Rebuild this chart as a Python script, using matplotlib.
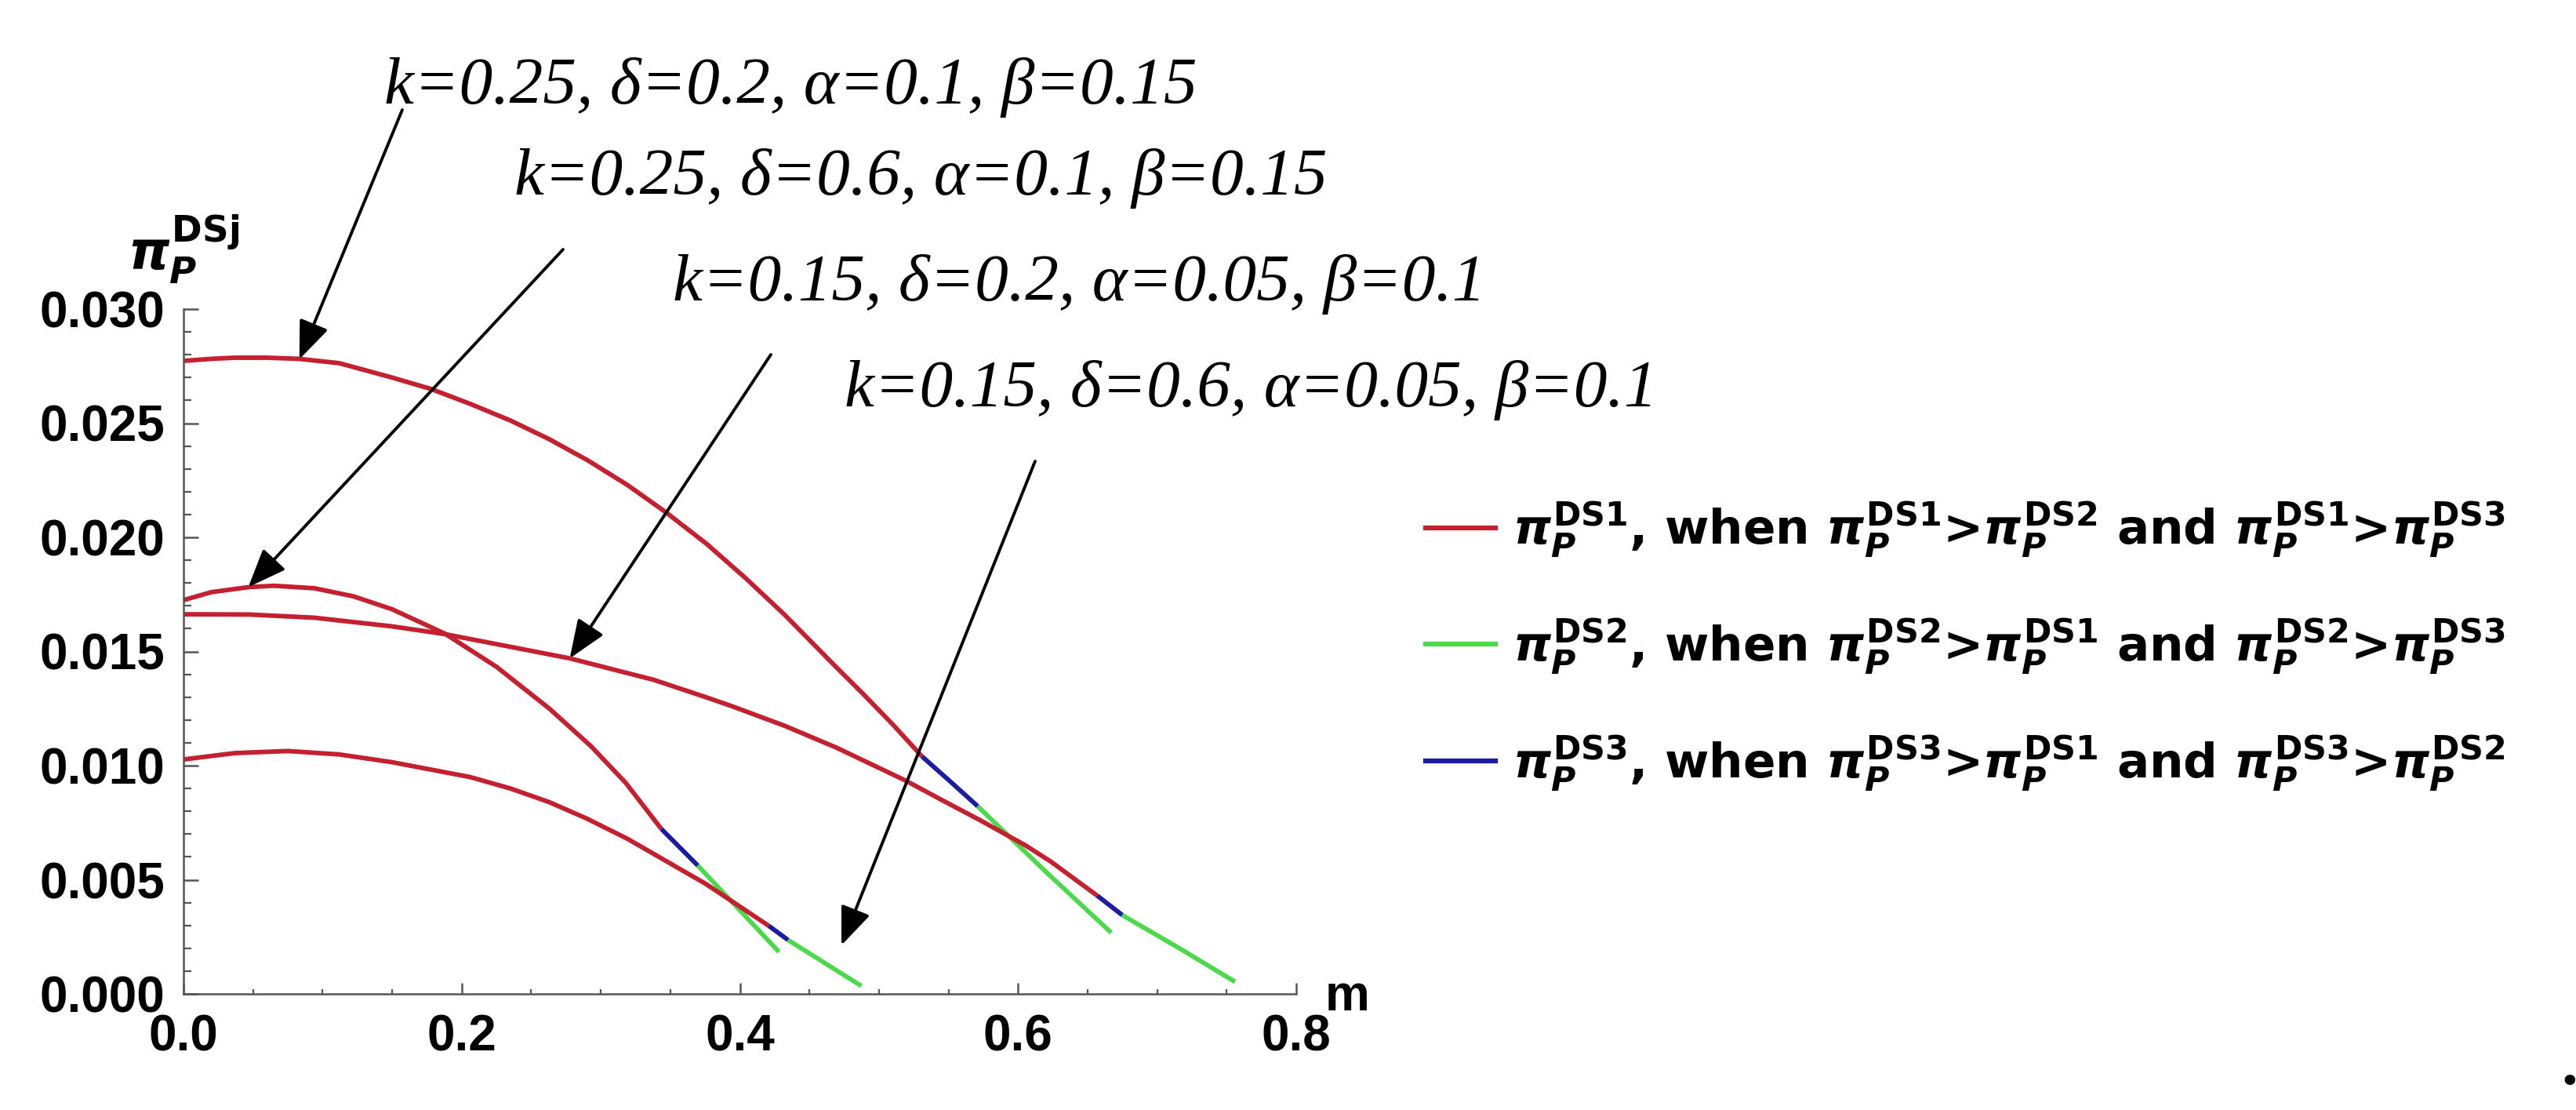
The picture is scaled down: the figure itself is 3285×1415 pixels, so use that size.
import matplotlib
matplotlib.use("Agg")
import matplotlib.pyplot as plt
from matplotlib.lines import Line2D
from matplotlib.ticker import MultipleLocator, FormatStrFormatter

W, H = 3285, 1415

# ---------------- data ----------------
# k=0.25, delta=0.2
A_red_m = [0.000, 0.020, 0.037, 0.060, 0.083, 0.112, 0.150, 0.178, 0.206, 0.235, 0.263, 0.291, 0.319,
           0.347, 0.376, 0.404, 0.432, 0.469, 0.488, 0.510, 0.531]
A_red_y = [0.02773, 0.02782, 0.02787, 0.02787, 0.02782, 0.02763, 0.02700, 0.02650, 0.02585, 0.02512,
           0.02430, 0.02336, 0.02230, 0.02109, 0.01972, 0.01822, 0.01662, 0.01433, 0.01318, 0.01180, 0.01040]
A_blue_m = [0.531, 0.551, 0.571]
A_blue_y = [0.01040, 0.00932, 0.00822]
A_green_m = [0.571, 0.620, 0.667]
A_green_y = [0.00822, 0.00535, 0.00268]

# k=0.25, delta=0.6
B_red_m = [0.000, 0.020, 0.047, 0.065, 0.094, 0.122, 0.150, 0.188, 0.225, 0.263, 0.293, 0.318, 0.3435]
B_red_y = [0.01725, 0.01760, 0.01782, 0.01788, 0.01777, 0.01742, 0.01685, 0.01578, 0.01433, 0.01250,
           0.01085, 0.00924, 0.00723]
B_blue_m = [0.3435, 0.3698]
B_blue_y = [0.00723, 0.00562]
B_green_m = [0.3698, 0.4281]
B_green_y = [0.00562, 0.00184]

# k=0.15, delta=0.2
C_red_m = [0.000, 0.047, 0.094, 0.150, 0.188, 0.2777, 0.338, 0.3755, 0.394, 0.432, 0.469, 0.519,
           0.545, 0.573, 0.6055, 0.6235, 0.657]
C_red_y = [0.01663, 0.01662, 0.01648, 0.01610, 0.01576, 0.01470, 0.01376, 0.01300, 0.01261, 0.01175,
           0.01080, 0.00935, 0.00850, 0.00760, 0.00650, 0.00580, 0.00430]
C_blue_m = [0.657, 0.675]
C_blue_y = [0.00430, 0.00345]
C_green_m = [0.675, 0.716, 0.756]
C_green_y = [0.00345, 0.00200, 0.00053]

# k=0.15, delta=0.6
D_red_m = [0.000, 0.037, 0.075, 0.112, 0.150, 0.206, 0.235, 0.263, 0.290, 0.319, 0.3755, 0.4206]
D_red_y = [0.01027, 0.01055, 0.01064, 0.01049, 0.01015, 0.00950, 0.00900, 0.00840, 0.00768, 0.00680,
           0.00482, 0.00299]
D_blue_m = [0.4206, 0.4347]
D_blue_y = [0.00299, 0.00236]
D_green_m = [0.4347, 0.4873]
D_green_y = [0.00236, 0.00035]

x_ticks = [0.0, 0.2, 0.4, 0.6, 0.8]
y_ticks = [0.000, 0.005, 0.010, 0.015, 0.020, 0.025, 0.030]

param_labels = [
    "k=0.25, \u03b4=0.2, \u03b1=0.1, \u03b2=0.15",
    "k=0.25, \u03b4=0.6, \u03b1=0.1, \u03b2=0.15",
    "k=0.15, \u03b4=0.2, \u03b1=0.05, \u03b2=0.1",
    "k=0.15, \u03b4=0.6, \u03b1=0.05, \u03b2=0.1",
]
# arrow tips (data coords on the curves)
arrow_tip_m = [0.0833, 0.0466, 0.2777, 0.473]
arrow_tip_y = [0.0278, 0.01782, 0.01470, 0.00213]

legend_labels = [
    r"$\pi_P^{\mathrm{DS1}}$, when $\pi_P^{\mathrm{DS1}}$>$\pi_P^{\mathrm{DS2}}$ and $\pi_P^{\mathrm{DS1}}$>$\pi_P^{\mathrm{DS3}}$",
    r"$\pi_P^{\mathrm{DS2}}$, when $\pi_P^{\mathrm{DS2}}$>$\pi_P^{\mathrm{DS1}}$ and $\pi_P^{\mathrm{DS2}}$>$\pi_P^{\mathrm{DS3}}$",
    r"$\pi_P^{\mathrm{DS3}}$, when $\pi_P^{\mathrm{DS3}}$>$\pi_P^{\mathrm{DS1}}$ and $\pi_P^{\mathrm{DS3}}$>$\pi_P^{\mathrm{DS2}}$",
]

# ---------------- style ----------------
RED = "#C42030"
GREEN = "#4CD94C"
BLUE = "#1C1CA0"
AXC = "#555555"

plt.rcParams["mathtext.fontset"] = "custom"
plt.rcParams["mathtext.rm"] = "DejaVu Sans:bold"
plt.rcParams["mathtext.it"] = "DejaVu Sans:italic:bold"
plt.rcParams["mathtext.bf"] = "DejaVu Sans:bold"

fig = plt.figure(figsize=(W / 100, H / 100), dpi=100)
fig.patch.set_facecolor("white")

def fx(px):
    return px / W

def fy(py):
    return 1 - py / H

ax = fig.add_axes([fx(234), fy(1267), fx(1653) - fx(234), fy(394) - fy(1267)])
ax.set_xlim(0, 0.8)
ax.set_ylim(0, 0.030)

lw = 4.2
curves = [
    (A_red_m, A_red_y, A_blue_m, A_blue_y, A_green_m, A_green_y),
    (B_red_m, B_red_y, B_blue_m, B_blue_y, B_green_m, B_green_y),
    (C_red_m, C_red_y, C_blue_m, C_blue_y, C_green_m, C_green_y),
    (D_red_m, D_red_y, D_blue_m, D_blue_y, D_green_m, D_green_y),
]
for rm, ry, bm, by, gm, gy in curves:
    ax.plot(rm, ry, color=RED, lw=lw, solid_capstyle="butt", solid_joinstyle="round")
    ax.plot(bm, by, color=BLUE, lw=lw, solid_capstyle="butt")
    ax.plot(gm, gy, color=GREEN, lw=lw, solid_capstyle="butt")

for s in ["top", "right"]:
    ax.spines[s].set_visible(False)
for s in ["left", "bottom"]:
    ax.spines[s].set_color(AXC)
    ax.spines[s].set_linewidth(1.8)

ax.xaxis.set_major_locator(MultipleLocator(0.2))
ax.xaxis.set_minor_locator(MultipleLocator(0.05))
ax.yaxis.set_major_locator(MultipleLocator(0.005))
ax.yaxis.set_minor_locator(MultipleLocator(0.001))
ax.set_xticks(x_ticks)
ax.set_yticks(y_ticks)
ax.xaxis.set_major_formatter(FormatStrFormatter("%.1f"))
ax.yaxis.set_major_formatter(FormatStrFormatter("%.3f"))

ax.tick_params(axis="y", which="major", direction="in", length=14, width=1.8, color=AXC, pad=17)
ax.tick_params(axis="y", which="minor", direction="in", length=7, width=1.6, color=AXC)
ax.tick_params(axis="x", which="major", direction="in", length=10, width=1.8, color=AXC, pad=18)
ax.tick_params(axis="x", which="minor", direction="in", length=4, width=1.6, color=AXC)
for lab in ax.get_xticklabels() + ax.get_yticklabels():
    lab.set_fontfamily("Liberation Sans")
    lab.set_fontweight("bold")
    lab.set_fontsize(46)

# axis names
fig.text(fx(163), fy(343), r"$\pi_P^{\mathrm{DSj}}$", fontsize=48, ha="left", va="baseline")
fig.text(fx(1690), fy(1288), "m", fontsize=46, family="Liberation Sans", weight="bold",
         ha="left", va="baseline")

# parameter annotations
text_left = [490, 656, 858, 1077]
text_base = [132, 248, 383, 518]
arrow_tail = [(513, 140), (718, 318), (983, 452), (1320, 588)]
for lab, tx, tb in zip(param_labels, text_left, text_base):
    fig.text(fx(tx), fy(tb), lab, fontsize=61.5, family="Liberation Serif", style="italic",
             ha="left", va="baseline")
for (tx, ty), am, ay in zip(arrow_tail, arrow_tip_m, arrow_tip_y):
    ax.annotate("", xy=(am, ay), xycoords="data",
                xytext=(tx, H - ty), textcoords="figure pixels",
                arrowprops=dict(arrowstyle="-|>,head_length=0.6,head_width=0.24",
                                mutation_scale=50, lw=2.8, color="black",
                                shrinkA=0, shrinkB=0),
                annotation_clip=False)

# legend
handles = [Line2D([], [], color=c, lw=4.5) for c in (RED, GREEN, BLUE)]
leg = ax.legend(handles, legend_labels, loc="upper left",
                bbox_to_anchor=(fx(1818), fy(638)), bbox_transform=fig.transFigure,
                frameon=False, prop=dict(family="DejaVu Sans", weight="bold", size=44),
                handlelength=1.46, handletextpad=0.35, labelspacing=1.22,
                borderpad=0, borderaxespad=0)

# trailing period
fig.text(fx(3266), fy(1382), ".", fontsize=60, family="Liberation Serif", weight="bold",
         ha="left", va="baseline")

fig.savefig("out.png", dpi=100, facecolor="white")
